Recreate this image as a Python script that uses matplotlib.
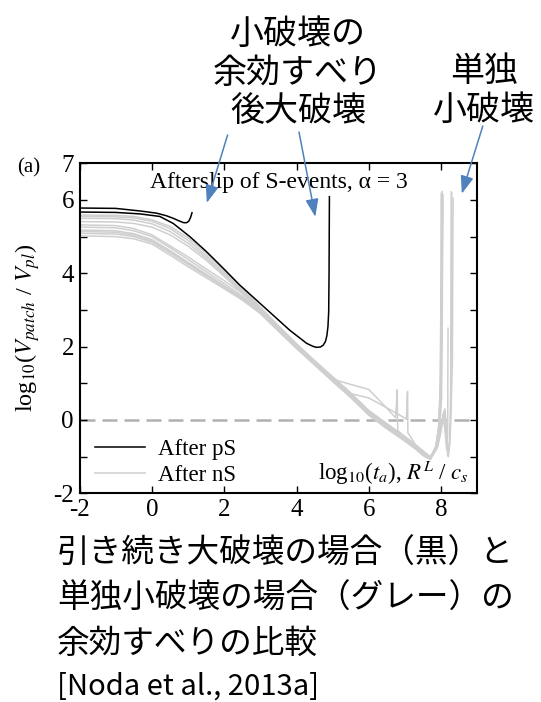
import numpy as np
import matplotlib
matplotlib.use('Agg')
import matplotlib.pyplot as plt

plt.rcParams['font.family'] = ['Liberation Serif', 'DejaVu Serif']
plt.rcParams['mathtext.fontset'] = 'stix'
plt.rcParams['axes.unicode_minus'] = False

JP = ['Noto Sans CJK JP', 'DejaVu Sans']

# ---------------------------------------------------------------- data
# afterslip following pS (black): the long one ends in the large event
ps_main_x = [-2.0, -1.0, -0.33, 0.22, 0.59, 1.05, 1.51, 1.97, 2.43, 2.89, 3.35, 3.81,
             4.28, 4.45, 4.55, 4.66, 4.74, 4.80, 4.84, 4.87, 4.89, 4.90, 4.91]
ps_main_y = [5.67, 5.66, 5.62, 5.55, 5.36, 5.00, 4.59, 4.14, 3.68, 3.27, 2.86, 2.45,
             2.09, 2.01, 1.98, 1.99, 2.04, 2.14, 2.30, 2.55, 2.95, 4.00, 6.09]
ps_short_x = [-2.0, -1.0, -0.33, 0.13, 0.40, 0.59, 0.75, 0.88, 0.96, 1.02, 1.07, 1.11]
ps_short_y = [5.78, 5.77, 5.70, 5.64, 5.57, 5.50, 5.43, 5.38, 5.38, 5.42, 5.52, 5.65]

# afterslip following nS (gray), common time grid + extra points per run
ns_x = [-2.0, -1.0, -0.5, 0.0, 0.5, 1.0, 1.5, 2.0, 2.5, 3.0, 3.5, 4.0,
        4.5, 5.0, 5.5, 6.0, 6.5, 7.0, 7.3, 7.5, 7.7]
ns_y = [
    [5.59, 5.58, 5.55, 5.46, 5.28, 4.97, 4.55, 4.08, 3.58, 3.08, 2.57, 2.08,
     1.62, 1.18, 0.74, 0.26, -0.10, -0.45, -0.68, -0.84, -1.00],
    [5.55, 5.54, 5.51, 5.42, 5.22, 4.90, 4.48, 4.02, 3.54, 3.05, 2.54, 2.05,
     1.60, 1.15, 0.70, 0.22, -0.13, -0.48, -0.70, -0.87, -1.03],
    [5.50, 5.49, 5.45, 5.35, 5.14, 4.82, 4.42, 3.97, 3.50, 3.01, 2.50, 2.02,
     1.57, 1.12, 0.68, 0.20, -0.16, -0.50, -0.72, -0.89, -1.05],
    [5.41, 5.40, 5.36, 5.26, 5.05, 4.74, 4.36, 3.92, 3.46, 2.98, 2.48, 2.00,
     1.55, 1.10, 0.66, 0.18, -0.18, -0.52, -0.75, -0.92, -1.05],
    [5.32, 5.30, 5.22, 5.05, 4.75, 4.45, 4.12, 3.80, 3.45, 3.02, 2.52, 2.04,
     1.58, 1.12, 0.97, 0.83, 0.32, -0.50, -0.72, -0.90, -1.05],
    [5.26, 5.24, 5.16, 5.00, 4.70, 4.38, 4.05, 3.72, 3.38, 2.98, 2.48, 2.00,
     1.55, 1.10, 0.72, 0.60, 0.33, 0.05, -0.70, -0.88, -1.04],
    [5.18, 5.16, 5.08, 4.92, 4.62, 4.30, 3.98, 3.66, 3.34, 2.95, 2.46, 1.98,
     1.53, 1.08, 0.64, 0.16, -0.20, -0.54, -0.76, -0.93, -1.06],
    [5.14, 5.12, 5.04, 4.88, 4.59, 4.27, 3.95, 3.64, 3.32, 2.93, 2.45, 1.97,
     1.52, 1.07, 0.63, 0.15, -0.22, -0.56, -0.78, -0.95, -1.07],
    [5.09, 5.07, 5.00, 4.85, 4.56, 4.24, 3.93, 3.62, 3.30, 2.92, 2.44, 1.96,
     1.51, 1.06, 0.62, 0.14, -0.23, -0.57, -0.79, -0.96, -1.07],
    [5.02, 5.00, 4.94, 4.80, 4.50, 4.18, 3.88, 3.58, 3.27, 2.90, 2.42, 1.95,
     1.50, 1.05, 0.61, 0.13, -0.24, -0.58, -0.80, -0.97, -1.08],
]
ns_tail_x = [
    [7.85, 7.93, 7.98, 8.01, 8.03],
    [7.88, 7.98, 8.05, 8.10, 8.15, 8.19, 8.23, 8.26, 8.28, 8.29],
    [7.87, 7.95, 8.00, 8.03, 8.05],
    [7.88, 7.98, 8.05, 8.10, 8.15, 8.18, 8.19],
    [5.25, 6.74, 6.77, 6.78, 6.80, 6.85, 7.85, 7.95, 8.00, 8.02, 8.04],
    [7.04, 7.06, 7.07, 7.08, 7.15, 7.90, 8.00, 8.07, 8.12, 8.18, 8.21, 8.26, 8.31, 8.32, 8.33],
    [7.86, 7.94, 7.99, 8.01, 8.02],
    [7.89, 7.99, 8.06, 8.11, 8.16, 8.20, 8.24, 8.26, 8.27, 8.28],
    [7.85, 7.93, 7.97, 7.99, 8.00],
    [7.87, 7.96, 8.01, 8.03, 8.04],
]
ns_tail_y = [
    [-0.75, -0.20, 1.00, 3.50, 6.23],
    [-0.70, -0.25, 0.10, 0.30, -0.40, -0.95, -0.70, 0.20, 2.50, 6.20],
    [-0.72, -0.15, 1.20, 3.80, 6.15],
    [-0.70, -0.25, 0.05, -0.20, -0.80, -0.40, 2.50],
    [1.04, 0.06, 0.50, 0.82, -0.30, -0.33, -0.72, -0.10, 1.50, 4.00, 6.10],
    [0.02, 0.60, 0.78, -0.35, -0.45, -0.75, -0.30, 0.20, -0.30, -0.98, -0.80, -0.20, 1.50, 4.00, 6.05],
    [-0.78, -0.25, 0.90, 3.20, 6.00],
    [-0.74, -0.28, 0.15, 0.25, -0.50, -1.00, -0.60, 0.40, 2.80, 6.22],
    [-0.76, -0.22, 0.80, 3.00, 6.18],
    [-0.80, -0.30, 0.60, 2.50, 5.90],
]

# ---------------------------------------------------------------- figure
fig = plt.figure(figsize=(5.41, 7.02), dpi=100)
ax = fig.add_axes([0.147, 0.2973, 0.7353, 0.4701])

ax.axhline(0, color='#b0b0b0', lw=1.8, dashes=(6, 2.8), zorder=1)

for i in range(len(ns_y)):
    xs = np.array(ns_x + ns_tail_x[i])
    ys = np.array(ns_y[i] + ns_tail_y[i])
    order = np.argsort(xs, kind='stable')
    ax.plot(xs[order], ys[order], color='#cfcfcf', lw=1.1, zorder=2,
            label='After nS' if i == 0 else None)

ax.plot(ps_short_x, ps_short_y, color='black', lw=1.1, zorder=3)
ax.plot(ps_main_x, ps_main_y, color='black', lw=1.1, zorder=3, label='After pS')

ax.set_xlim(-2, 9)
ax.set_ylim(-2, 7)
ax.set_xticks([-2, 0, 2, 4, 6, 8])
ax.set_yticks(range(-2, 8))
ax.set_yticklabels(['-2', '', '0', '', '2', '', '4', '', '6', '7'])
ax.tick_params(direction='in', length=5, width=1, top=True, right=True,
               labelsize=18, pad=4)
for sp in ax.spines.values():
    sp.set_linewidth(1.5)

ax.set_ylabel('log$_{10}$($V_{patch}$ / $V_{pl}$)', fontsize=17.5)
ax.yaxis.set_label_coords(-0.094, 0.5)
ax.text(0.979, 0.04, 'log$_{10}$($t_a$), $R^L$ / $c_s$', transform=ax.transAxes,
        ha='right', va='baseline', fontsize=16.5)
ax.text(3.5, 6.33, 'Afterslip of S-events, α = 3', ha='center', va='baseline',
        fontsize=17)
fig.text(17 / 541, 1 - 172 / 702, '(a)', fontsize=15, va='baseline')

h, l = ax.get_legend_handles_labels()
ax.legend(h[::-1], l[::-1], loc='lower left', bbox_to_anchor=(0.021, 0.0),
          frameon=False, fontsize=16.5, handlelength=2.18, labelspacing=0.25,
          borderaxespad=0.0, borderpad=0.3, handletextpad=0.6)

# annotations
arrow = dict(arrowstyle='-|>,head_length=0.6,head_width=0.22', color='#4f81bd',
             lw=1.1, mutation_scale=18, shrinkA=0, shrinkB=0)
fig.text(298 / 541, 1 - 73 / 702, '小破壊の\n余効すべり\n後大破壊', family=JP,
         fontsize=24.5, ha='center', va='center', linespacing=1.12)
fig.text(484 / 541, 1 - 91 / 702, '単独\n小破壊', family=JP,
         fontsize=24.5, ha='center', va='center', linespacing=1.12)
ax.annotate('', xy=(1.52, 5.92), xytext=(227.6, 567), textcoords='figure pixels',
            arrowprops=arrow, annotation_clip=False)
ax.annotate('', xy=(4.52, 5.54), xytext=(299, 570), textcoords='figure pixels',
            arrowprops=arrow, annotation_clip=False)
ax.annotate('', xy=(8.57, 6.17), xytext=(482.8, 576), textcoords='figure pixels',
            arrowprops=arrow, annotation_clip=False)

fig.text(57 / 541, 1 - 599 / 702,
         '引き続き大破壊の場合（黒）と\n単独小破壊の場合（グレー）の\n余効すべりの比較',
         family=JP, fontsize=23.5, ha='left', va='center', linespacing=1.52)
fig.text(57 / 541, 1 - 687 / 702, '[Noda et al., 2013a]', family=JP,
         fontsize=21, ha='left', va='center')

fig.savefig('out.png', dpi=100)
